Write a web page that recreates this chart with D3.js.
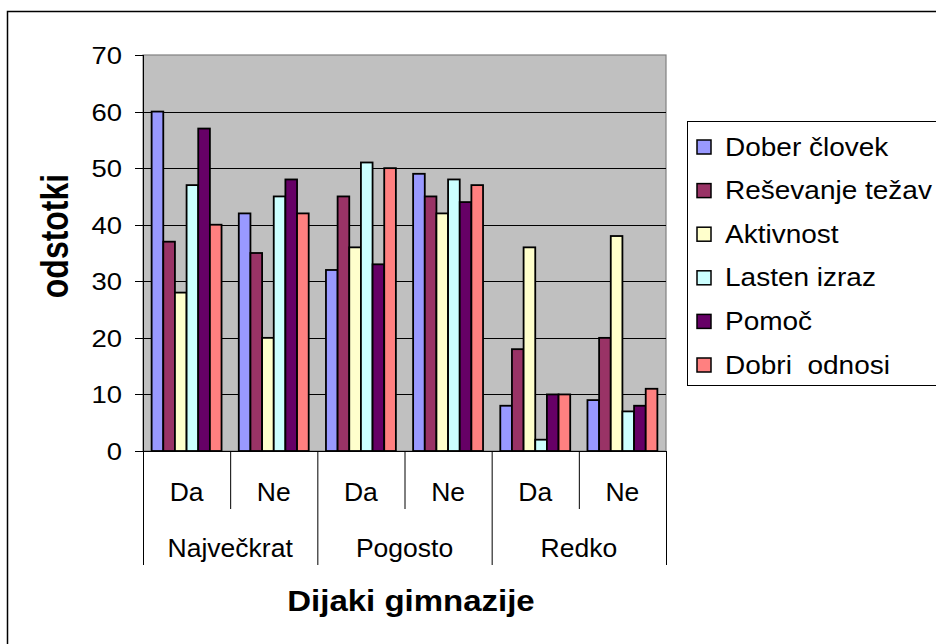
<!DOCTYPE html>
<meta charset="utf-8">
<script src="https://d3js.org/d3.v7.min.js"></script>
<title>Dijaki gimnazije</title>
<style>
body { margin: 0; background: #fff; }
svg { font-family: "Liberation Sans", Arial, sans-serif; display: block; }
</style>
<svg width="936" height="644"></svg>
<script>

var groups = ["Največkrat", "Pogosto", "Redko"];
var answers = ["Da", "Ne"];
var seriesNames = ["Dober človek", "Reševanje težav", "Aktivnost", "Lasten izraz", "Pomoč", "Dobri  odnosi"];
var seriesColors = ["#9999FF", "#993366", "#FFFFCC", "#CCFFFF", "#660066", "#FF8080"];
// one value per (group, answer) pair, in order Največkrat Da, Ne, Pogosto Da, Ne, Redko Da, Ne
var doberClovek = [60, 42, 32, 49, 8, 9];
var resevanjeTezav = [37, 35, 45, 45, 18, 20];
var aktivnost = [28, 20, 36, 42, 36, 38];
var lastenIzraz = [47, 45, 51, 48, 2, 7];
var pomoc = [57, 48, 33, 44, 10, 8];
var dobriOdnosi = [40, 42, 50, 47, 10, 11];
var yTicks = [0, 10, 20, 30, 40, 50, 60, 70];

var series = [doberClovek, resevanjeTezav, aktivnost, lastenIzraz, pomoc, dobriOdnosi];

var svg = d3.select("svg");
var plotLeft = 143, plotRight = 666, plotTop = 55, plotBottom = 451;

// subcategory keys
var keys = [];
groups.forEach(g => answers.forEach(a => keys.push(g + "|" + a)));

var x0 = d3.scaleBand().domain(keys).range([plotLeft, plotRight]);
var x1 = d3.scaleBand().domain(d3.range(seriesNames.length))
    .range([0, x0.bandwidth()]).paddingOuter(0.74).paddingInner(0);
var gx = d3.scaleBand().domain(groups).range([plotLeft, plotRight]);
var y = d3.scaleLinear().domain([0, 70]).range([plotBottom, plotTop]);

function stretched(sel, x, yy, sx, sy) {
  return sel.attr("transform", "translate(" + x + "," + yy + ") scale(" + sx + "," + (sy || 1) + ")");
}

// outer frame
svg.append("rect")
    .attr("x", 7.5).attr("y", 11.5).attr("width", 1000).attr("height", 1000)
    .attr("fill", "none").attr("stroke", "#000").attr("stroke-width", 1.5);

// plot area
svg.append("rect")
    .attr("x", plotLeft).attr("y", plotTop).attr("width", plotRight - plotLeft).attr("height", plotBottom - plotTop)
    .attr("fill", "#C0C0C0").attr("stroke", "#808080").attr("stroke-width", 1.2);

svg.append("g")
  .selectAll("line")
  .data(yTicks.filter(d => d > 0 && d < 70))
  .join("line")
    .attr("x1", plotLeft).attr("x2", plotRight)
    .attr("y1", d => Math.round(y(d)) + 0.5).attr("y2", d => Math.round(y(d)) + 0.5)
    .attr("stroke", "#000").attr("stroke-width", 1);

// bars
var bars = svg.append("g");
series.forEach(function(vals, si) {
  bars.selectAll(".s" + si)
    .data(vals)
    .join("rect")
      .attr("class", "s" + si)
      .attr("x", (d, i) => x0(keys[i]) + x1(si))
      .attr("y", d => y(d))
      .attr("width", x1.bandwidth())
      .attr("height", d => y(0) - y(d))
      .attr("fill", seriesColors[si])
      .attr("stroke", "#000").attr("stroke-width", 1.8);
});

// y axis
var yAxis = svg.append("g");
yAxis.append("line")
    .attr("x1", plotLeft + 0.5).attr("x2", plotLeft + 0.5).attr("y1", plotTop).attr("y2", 565)
    .attr("stroke", "#000");
yAxis.selectAll(".tick")
  .data(yTicks)
  .join("line")
    .attr("class", "tick")
    .attr("x1", 135).attr("x2", plotLeft)
    .attr("y1", d => Math.round(y(d)) + 0.5).attr("y2", d => Math.round(y(d)) + 0.5)
    .attr("stroke", "#000");
yAxis.selectAll("text")
  .data(yTicks)
  .join("text")
    .attr("text-anchor", "end")
    .attr("font-size", 24.5)
    .each(function(d) { stretched(d3.select(this), 122, y(d) + 9, 1.12); })
    .text(d => d);

// x axis
svg.append("line")
    .attr("x1", 135).attr("x2", plotRight).attr("y1", plotBottom + 0.5).attr("y2", plotBottom + 0.5)
    .attr("stroke", "#000");
svg.append("g").selectAll("line")
  .data(keys.filter((k, i) => i % 2 === 1))
  .join("line")
    .attr("x1", d => x0(d) + 0.5).attr("x2", d => x0(d) + 0.5)
    .attr("y1", plotBottom).attr("y2", 509).attr("stroke", "#000");
svg.append("g").selectAll("line")
  .data(groups.map(g => gx(g)).concat([plotRight]))
  .join("line")
    .attr("x1", d => d + 0.5).attr("x2", d => d + 0.5)
    .attr("y1", plotBottom).attr("y2", 565).attr("stroke", "#000");
svg.append("g").selectAll("text")
  .data(keys)
  .join("text")
    .attr("x", d => x0(d) + x0.bandwidth() / 2)
    .attr("y", 501)
    .attr("text-anchor", "middle")
    .attr("font-size", 26.5)
    .text(d => d.split("|")[1]);
svg.append("g").selectAll("text")
  .data(groups)
  .join("text")
    .attr("x", d => gx(d) + gx.bandwidth() / 2)
    .attr("y", 557)
    .attr("text-anchor", "middle")
    .attr("font-size", 26.5)
    .text(d => d);

// axis titles
stretched(svg.append("text"), 411, 611, 1.1)
    .attr("text-anchor", "middle")
    .attr("font-size", 30).attr("font-weight", "bold")
    .text("Dijaki gimnazije");
svg.append("text")
    .attr("transform", "translate(68,236) rotate(-90) scale(1,1.2)")
    .attr("text-anchor", "middle")
    .attr("font-size", 32).attr("font-weight", "bold")
    .text("odstotki");

// legend
var legend = svg.append("g");
legend.append("rect")
    .attr("x", 687.5).attr("y", 121.5).attr("width", 400).attr("height", 264)
    .attr("fill", "#fff").attr("stroke", "#000");
var item = legend.selectAll(".item")
  .data(seriesNames)
  .join("g")
    .attr("class", "item")
    .attr("transform", (d, i) => "translate(0," + (147 + i * 43.6) + ")");
item.append("rect")
    .attr("x", 697).attr("y", -7).attr("width", 14).attr("height", 14)
    .attr("fill", (d, i) => seriesColors[i]).attr("stroke", "#000").attr("stroke-width", 1.5);
item.append("text")
    .attr("font-size", 25)
    .each(function() { stretched(d3.select(this), 725, 8.5, 1.12); })
    .attr("xml:space", "preserve")
    .style("white-space", "pre")
    .text(d => d);

</script>
